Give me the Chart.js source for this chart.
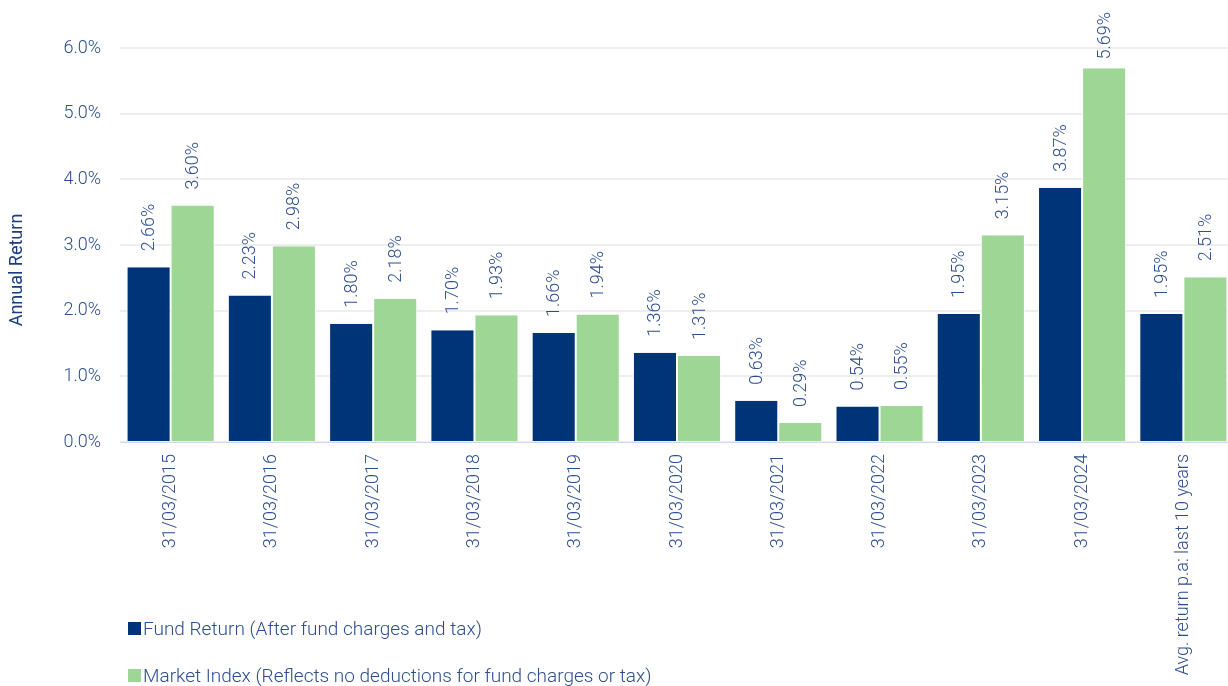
<!DOCTYPE html>
<html>
<head>
<meta charset="utf-8">
<script src="https://cdn.jsdelivr.net/npm/chart.js@4/dist/chart.umd.min.js"></script>
<style>
    html, body { margin: 0; padding: 0; background: #fff; overflow: hidden; }
    #wrap { position: relative; width: 1228px; height: 686px; overflow: hidden; }
    #legend {
        position: absolute; left: 128px; top: 615px;
        font-family: Roboto, sans-serif; font-weight: 300; font-size: 19px; color: #2d4e8f;
    }
    #legend div { display: flex; align-items: center; height: 26px; margin-bottom: 21px; }
    #legend span.box { display: inline-block; width: 13px; height: 13px; margin-right: 2px; }
</style>
</head>
<body>
<div id="wrap">
    <canvas id="returnsChart" width="1234" height="686"></canvas>
    <div id="legend"></div>
</div>
<script>
// Dados do gráfico
const categories = ['31/03/2015', '31/03/2016', '31/03/2017', '31/03/2018', '31/03/2019',
    '31/03/2020', '31/03/2021', '31/03/2022', '31/03/2023', '31/03/2024', 'Avg. return p.a: last 10 years'];
const fundReturn = [2.66, 2.23, 1.80, 1.70, 1.66, 1.36, 0.63, 0.54, 1.95, 3.87, 1.95];
const marketIndex = [3.60, 2.98, 2.18, 1.93, 1.94, 1.31, 0.29, 0.55, 3.15, 5.69, 2.51];
const seriesNames = ['Fund Return (After fund charges and tax)',
    'Market Index (Reflects no deductions for fund charges or tax)'];
const yTicks = [0, 1, 2, 3, 4, 5, 6];
const yTitle = 'Annual Return';

const textColor = '#2d4e8f';
const fontFamily = 'Roboto, sans-serif';

// Plugin para desenhar os valores acima das barras (texto vertical) e o título do eixo Y
const barValueLabels = {
    id: 'barValueLabels',
    afterDatasetsDraw(chart) {
        const ctx = chart.ctx;
        ctx.save();
        ctx.font = '300 18px ' + fontFamily;
        ctx.fillStyle = textColor;
        ctx.textAlign = 'left';
        ctx.textBaseline = 'middle';
        chart.data.datasets.forEach((ds, i) => {
            chart.getDatasetMeta(i).data.forEach((bar, j) => {
                const txt = ds.data[j].toFixed(2) + '%';
                const w = ctx.measureText(txt).width;
                let y = bar.y - 16;
                if (y - w < 12) y = 12 + w;
                ctx.save();
                ctx.translate(bar.x + 1, y);
                ctx.rotate(-Math.PI / 2);
                ctx.fillText(txt, 0, 0);
                ctx.restore();
            });
        });

        // título do eixo Y
        ctx.font = '400 18px ' + fontFamily;
        ctx.fillStyle = '#1a3c82';
        ctx.textAlign = 'center';
        ctx.translate(17, 270);
        ctx.rotate(-Math.PI / 2);
        ctx.fillText(yTitle, 0, 0);
        ctx.restore();
    }
};

const chart = new Chart(document.getElementById('returnsChart'), {
    type: 'bar',
    data: {
        labels: categories,
        datasets: [{
            label: seriesNames[0],
            data: fundReturn,
            backgroundColor: '#003478',
            borderColor: '#ffffff',
            borderWidth: { left: 1, right: 1 },
            barPercentage: 1,
            categoryPercentage: 0.87
        }, {
            label: seriesNames[1],
            data: marketIndex,
            backgroundColor: '#9ed795',
            borderColor: '#ffffff',
            borderWidth: { left: 1, right: 1 },
            barPercentage: 1,
            categoryPercentage: 0.87
        }]
    },
    options: {
        responsive: false,
        animation: false,
        layout: { padding: { top: 48, right: 0, left: 0, bottom: 0 } },
        scales: {
            x: {
                grid: { display: false },
                border: { display: true, color: '#c9daf2', width: 1 },
                ticks: {
                    color: textColor,
                    font: { family: fontFamily, size: 18, weight: 300 },
                    minRotation: 90,
                    maxRotation: 90,
                    autoSkip: false,
                    padding: 4
                },
                afterFit(scale) { scale.height = 244; }
            },
            y: {
                min: yTicks[0],
                max: yTicks[yTicks.length - 1],
                afterBuildTicks(scale) { scale.ticks = yTicks.map(v => ({ value: v })); },
                border: { display: false },
                grid: { color: '#eeeeee', lineWidth: 2, drawTicks: false },
                ticks: {
                    color: textColor,
                    font: { family: fontFamily, size: 18, weight: 300 },
                    padding: 19,
                    callback: v => v.toFixed(1) + '%'
                },
                afterFit(scale) { scale.width = 120; }
            }
        },
        plugins: {
            legend: { display: false },
            tooltip: { enabled: false }
        }
    },
    plugins: [barValueLabels]
});

// Legenda em HTML (um item por linha)
const legendEl = document.getElementById('legend');
chart.data.datasets.forEach(ds => {
    const row = document.createElement('div');
    const box = document.createElement('span');
    box.className = 'box';
    box.style.background = ds.backgroundColor;
    row.appendChild(box);
    row.appendChild(document.createTextNode(ds.label));
    legendEl.appendChild(row);
});
</script>
</body>
</html>
